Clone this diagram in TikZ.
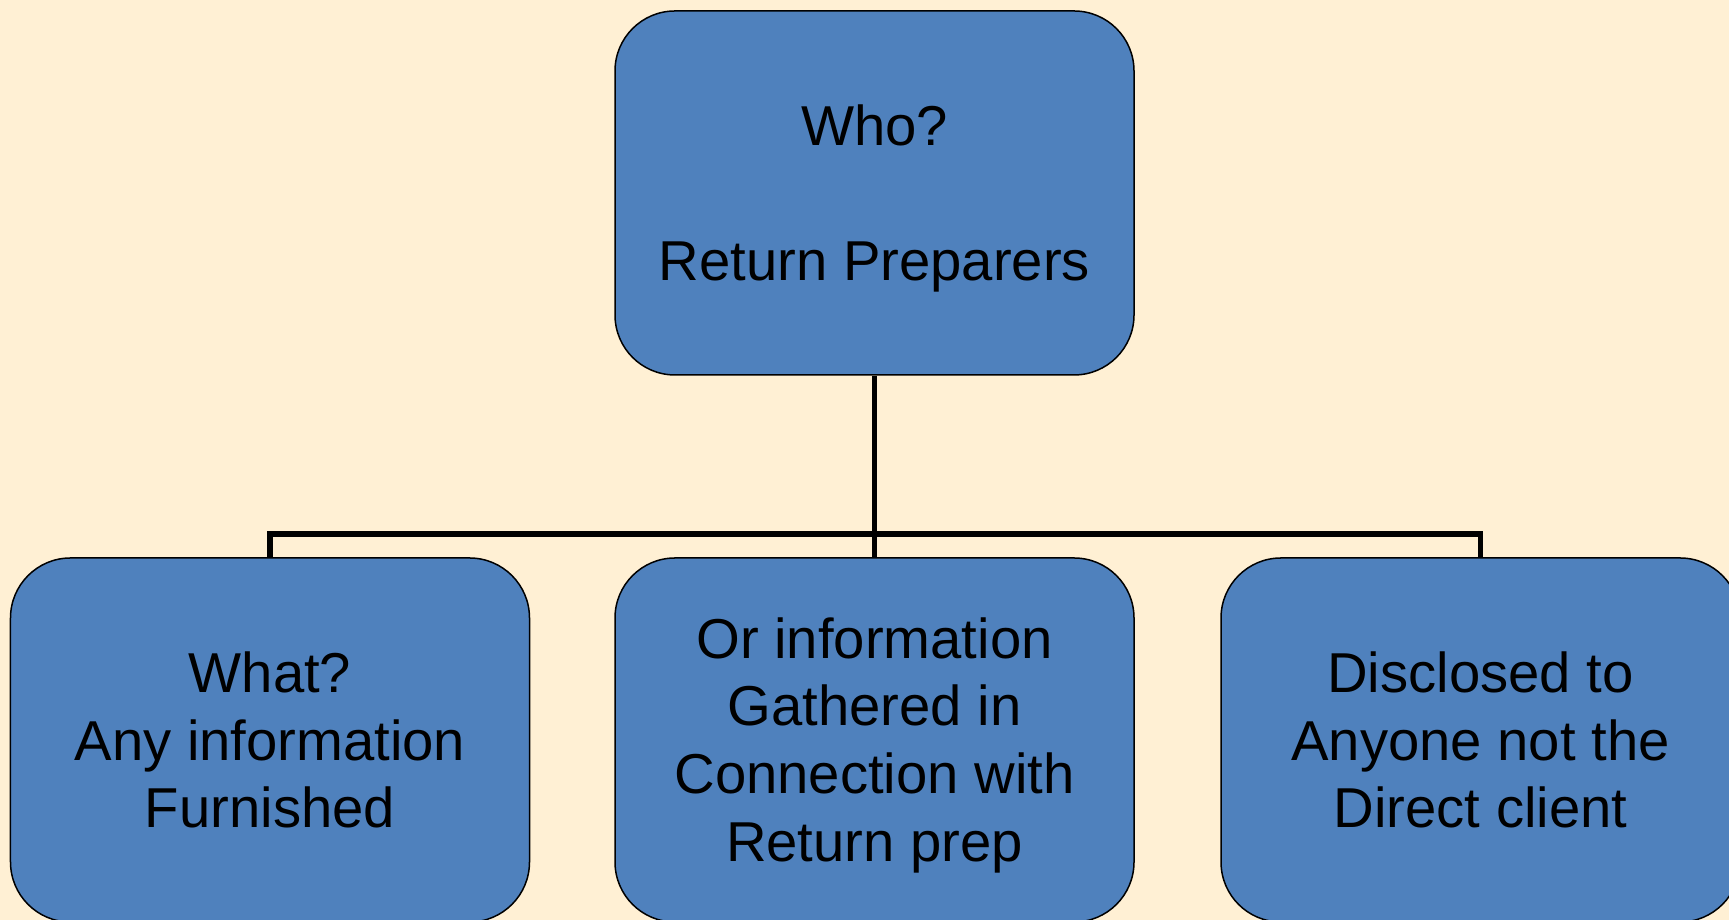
\documentclass[tikz,border=0pt]{standalone}
\usepackage{fontspec}
\setmainfont{Liberation Sans}
\definecolor{paper}{HTML}{FFF0D4}
\definecolor{boxblue}{HTML}{4F81BD}

\begin{document}
\begin{tikzpicture}[
	box/.style = {draw, line width = 0.03cm, fill = boxblue, rounded corners = 1.2cm,
		minimum width = 10.38cm, minimum height = 7.28cm, inner sep = 0,
		align = center, font = \fontsize{32}{38.6}\selectfont},
	link/.style = {line width = 0.11cm}
]

	% Background
	
	\path [use as bounding box, fill = paper] (0, 0) rectangle (34.58, 18.4);
	\clip (0, 0) rectangle (34.58, 18.4);

	% Boxes
	
	\node [box] (who) at (17.49, 14.54) {\rule{0pt}{1.03cm}Who?\\[38.6pt]Return Preparers};
	\node [box] (what) at (5.4, 3.6) {What?\\Any information\\Furnished};
	\node [box] (gathered) at (17.49, 3.6) {\rule{0pt}{1.03cm}Or information\\Gathered in\\Connection with\\Return prep};
	\node [box] (disclosed) at (29.61, 3.6) {Disclosed to\\Anyone not the\\Direct client};

	% Connectors
	
	\draw [link] (who.south) -- (gathered.north);
	\draw [link] (what.north) -- ++(0, 0.46) -| (disclosed.north);

\end{tikzpicture}
\end{document}
